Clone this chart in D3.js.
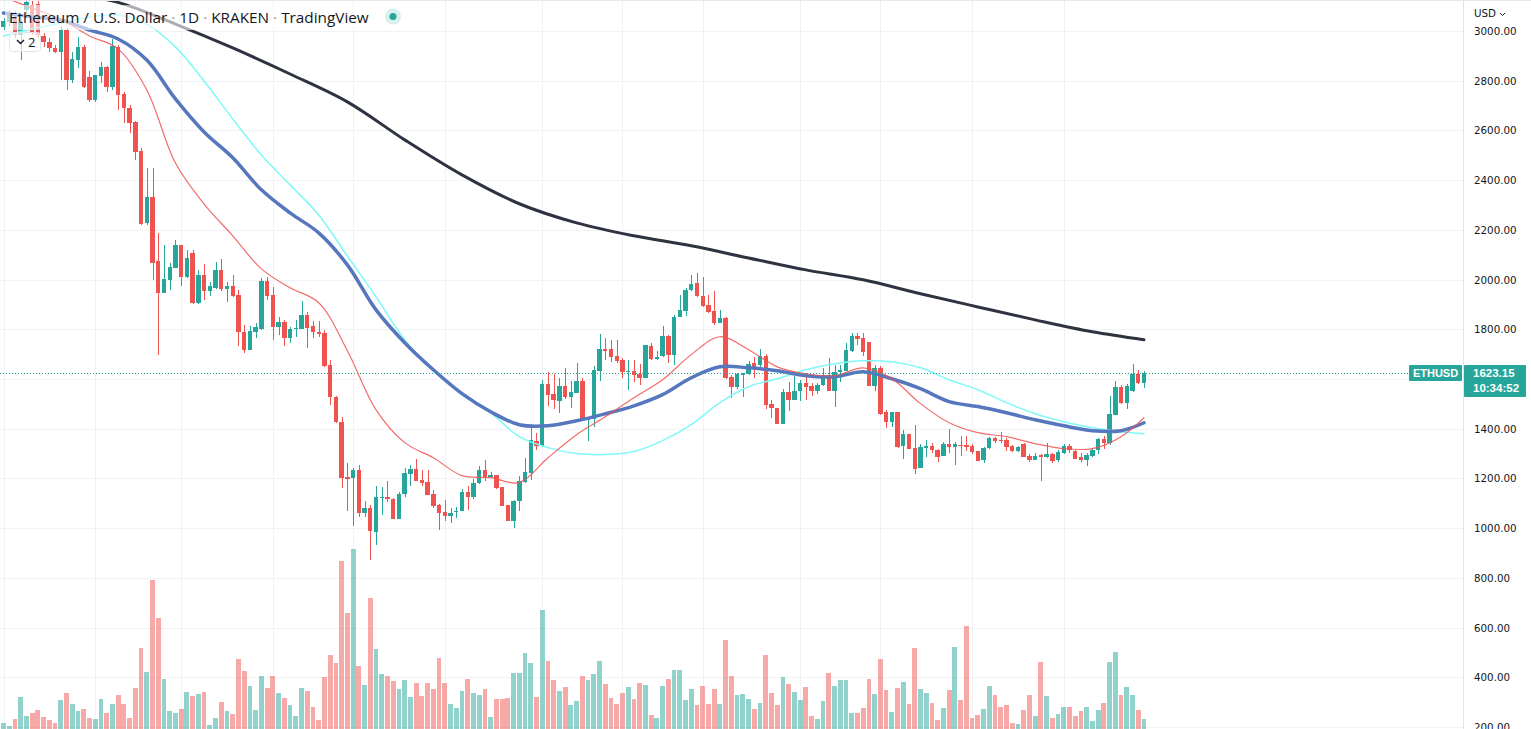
<!DOCTYPE html>
<html><head><meta charset="utf-8">
<script src="https://cdn.jsdelivr.net/npm/d3@7"></script>
<style>html,body{margin:0;padding:0;background:#fff;overflow:hidden}</style>
</head><body>
<svg id="c" width="1531" height="729"></svg>
<script>
// ---------- DATA (ETH/USD daily) ----------
const openP = [3016,3036,3056,2984,3084,3104,3110,2980,2956,2932,2916,3004,2803,2883,2936,2815,2723,2819,2855,2775,
2936,2747,2690,2634,2517,2228,2333,2075,1947,1999,2047,2140,2011,2108,1907,2019,1955,1967,2039,1963,
1975,1939,1790,1718,1790,1802,1995,1939,1810,1830,1766,1802,1802,1858,1814,1790,1786,1657,1529,1428,
1207,1203,1235,1062,1082,986,1123,1127,1119,1038,1139,1219,1239,1195,1187,1139,1094,1066,1050,1066,
1070,1147,1127,1183,1235,1207,1215,1167,1094,1030,1111,1187,1223,1352,1332,1581,1541,1513,1573,1529,
1545,1593,1436,1440,1633,1722,1722,1693,1677,1629,1633,1621,1605,1734,1681,1693,1774,1697,1850,1874,
1959,1987,1935,1898,1874,1826,1846,1609,1569,1617,1621,1665,1657,1693,1501,1485,1420,1549,1517,1553,
1585,1573,1553,1577,1617,1553,1629,1633,1714,1774,1766,1750,1573,1645,1468,1428,1468,1332,1380,1324,
1243,1324,1332,1316,1291,1340,1328,1336,1336,1332,1312,1275,1324,1364,1356,1356,1332,1312,1340,1292,
1275,1296,1288,1300,1275,1304,1332,1312,1287,1275,1292,1316,1360,1344,1456,1569,1505,1553,1621,1585];
const highP = [3052,3085,3080,3050,3125,3125,3130,2990,2972,2944,3016,3012,2916,2976,2944,2839,2823,2875,2859,2968,
2944,2755,2702,2638,2530,2449,2449,2188,2140,2067,2160,2140,2120,2120,2039,2063,1991,2071,2083,1991,
2019,1959,1818,1814,1826,2007,2011,1971,1850,1838,1810,1838,1915,1870,1834,1834,1798,1677,1533,1448,
1263,1243,1255,1110,1094,1171,1167,1191,1123,1147,1243,1255,1279,1235,1235,1155,1098,1115,1082,1086,
1159,1171,1199,1251,1275,1227,1215,1167,1094,1115,1211,1283,1420,1384,1597,1629,1621,1605,1645,1593,
1665,1605,1448,1653,1782,1766,1758,1758,1685,1677,1677,1661,1738,1746,1714,1814,1778,1858,1939,1967,
2019,2027,2011,1939,1955,1878,1850,1617,1625,1625,1673,1689,1722,1701,1517,1485,1561,1589,1613,1597,
1625,1585,1585,1645,1685,1657,1657,1746,1786,1786,1786,1750,1657,1653,1476,1468,1468,1396,1380,1416,
1340,1356,1344,1320,1348,1400,1348,1372,1372,1340,1312,1328,1368,1368,1388,1364,1336,1332,1344,1300,
1304,1300,1344,1304,1316,1340,1340,1316,1304,1304,1324,1364,1372,1533,1593,1577,1581,1661,1637,1633];
const lowP = [3004,3020,2970,2883,3070,2985,2970,2936,2916,2912,2803,2763,2791,2851,2771,2715,2715,2791,2755,2763,
2682,2630,2590,2481,2220,2220,1999,1698,1947,1959,2047,1975,2007,1903,1903,1919,1935,1963,1955,1911,
1931,1734,1706,1718,1766,1798,1919,1758,1778,1734,1746,1770,1802,1726,1766,1770,1649,1497,1424,1163,
1070,1010,1046,1046,873,934,1054,1107,1038,1038,1127,1171,1191,1171,1135,1082,994,1030,1022,1042,
1070,1074,1119,1179,1191,1203,1159,1090,1030,1002,1070,1183,1195,1316,1328,1493,1481,1465,1521,1485,
1545,1436,1352,1408,1593,1677,1669,1665,1605,1557,1589,1577,1605,1677,1677,1689,1665,1657,1850,1854,
1955,1931,1890,1866,1818,1826,1601,1525,1561,1529,1617,1605,1649,1481,1444,1420,1420,1473,1517,1513,
1517,1533,1541,1573,1553,1489,1589,1633,1710,1738,1693,1573,1553,1456,1404,1408,1324,1279,1320,1219,
1243,1287,1304,1267,1291,1304,1255,1291,1312,1300,1271,1263,1320,1344,1344,1312,1308,1308,1288,1267,
1275,1191,1284,1263,1267,1300,1304,1279,1267,1251,1287,1300,1320,1336,1456,1501,1481,1549,1581,1565];
const closeP = [3040,3064,2984,3036,3116,2996,2984,2956,2932,2916,3004,2803,2887,2936,2775,2723,2823,2855,2775,2940,
2743,2690,2630,2513,2224,2333,2067,1947,2003,2051,2140,2011,2087,1907,2019,1955,1975,2039,1963,1975,
1935,1790,1718,1794,1810,1995,1935,1810,1830,1766,1802,1806,1858,1806,1790,1782,1653,1529,1428,1203,
1199,1235,1062,1082,990,1127,1127,1119,1038,1139,1223,1239,1191,1183,1135,1090,1062,1050,1062,1070,
1147,1127,1183,1235,1207,1215,1163,1090,1030,1111,1191,1227,1356,1332,1581,1537,1517,1573,1529,1549,
1593,1436,1444,1637,1722,1714,1689,1673,1629,1633,1617,1605,1738,1681,1689,1774,1697,1850,1878,1959,
1983,1935,1894,1870,1826,1846,1605,1569,1621,1625,1661,1641,1693,1497,1485,1420,1549,1517,1553,1585,
1569,1553,1577,1617,1553,1629,1637,1718,1774,1762,1710,1573,1645,1460,1428,1468,1328,1380,1320,1239,
1328,1332,1316,1287,1340,1328,1340,1332,1328,1308,1271,1324,1364,1352,1352,1328,1312,1328,1288,1275,
1292,1288,1300,1271,1308,1332,1316,1279,1275,1296,1316,1360,1344,1460,1569,1505,1573,1621,1585,1623.15];
const volume = [7,4,11,33,14,17,20,13,10,7,30,37,26,19,21,12,11,31,17,26,
35,26,12,42,82,58,150,112,51,19,17,21,38,34,36,38,5,12,28,19,
16,71,59,44,20,54,42,54,37,32,25,14,42,39,23,10,53,75,67,169,
117,181,64,45,132,81,56,54,49,41,50,33,47,34,47,41,72,47,26,22,
39,51,37,35,41,13,31,31,32,57,57,77,67,33,120,69,50,39,43,25,
29,54,50,56,69,46,32,26,37,43,31,47,45,15,12,44,51,60,60,30,
41,25,44,26,41,26,90,54,35,36,31,21,27,75,37,25,53,46,38,30,
43,14,11,29,57,44,50,50,17,17,22,51,36,71,40,18,42,48,26,82,
41,37,27,10,22,40,83,30,104,12,15,21,44,35,23,25,7,6,20,35,
14,68,34,12,16,23,23,14,19,23,9,20,27,68,78,35,43,35,20,11];

// moving averages, read at sampled candle indices
const maIdx = [0,5,10,15,20,25,30,35,40,45,50,55,60,65,70,75,80,85,90,95,100,105,110,115,120,125,130,135,140,145,150,155,160,165,170,175,180,185,190,195,199];
const maRed = [3137,3092,3048,2980,2928,2763,2469,2304,2176,2043,1967,1907,1714,1476,1344,1283,1211,1203,1183,1283,1376,1448,1525,1597,1698,1770,1718,1649,1621,1613,1645,1601,1501,1424,1384,1368,1340,1320,1320,1368,1444];
const maBlue = [3072,3056,3044,3004,2968,2883,2727,2594,2490,2361,2268,2188,2059,1878,1746,1637,1541,1468,1416,1412,1432,1460,1492,1537,1605,1649,1645,1633,1613,1609,1629,1601,1561,1509,1489,1464,1436,1412,1392,1392,1424];
const maCyan = [2980,3008,3032,3056,3064,3028,2936,2799,2646,2501,2381,2260,2095,1931,1758,1633,1537,1464,1368,1324,1300,1296,1308,1352,1416,1505,1569,1601,1637,1661,1673,1669,1645,1597,1557,1505,1460,1428,1404,1388,1380];
const maDarkIdx = [0,10,20,30,40,50,60,70,80,90,100,110,120,130,140,150,160,170,180,190,199];
const maDark = [3213,3161,3115,3028,2932,2827,2715,2562,2421,2305,2228,2176,2136,2087,2039,1999,1943,1890,1838,1790,1758];

const priceTicks = [3000,2800,2600,2400,2200,2000,1800,1600,1400,1200,1000,800,600,400,200];
const timeGridIdx = [0,16,31,47,61,77,94,108,122,139,153,169,185];
const lastPrice = 1623.15;
const countdown = "10:34:52";
const symbolLabel = "ETHUSD";
const titleParts = ["Ethereum / U.S. Dollar", "1D", "KRAKEN", "TradingView"];
const currency = "USD";
const indicatorCount = "2";

// ---------- LAYOUT ----------
const W = 1531, H = 729, plotRight = 1463;
const UP = "#26a69a", DOWN = "#ef5350";
const svg = d3.select("#c");
const x = d3.scaleLinear().domain([0, 199]).range([3.5, 1144]);
const y = d3.scaleLinear().domain([200, 3000]).range([727, 31]);
const yv = d3.scaleLinear().domain([0, 200]).range([730, 530]);

svg.append("rect").attr("width", W).attr("height", H).attr("fill", "#fff");
svg.append("defs").append("clipPath").attr("id", "plot")
  .append("rect").attr("x", 0).attr("y", 0).attr("width", plotRight).attr("height", H);

const plot = svg.append("g").attr("clip-path", "url(#plot)");

// grid
plot.append("g").selectAll("line").data(priceTicks).join("line")
  .attr("x1", 0).attr("x2", plotRight)
  .attr("y1", d => Math.round(y(d)) + 0.5).attr("y2", d => Math.round(y(d)) + 0.5)
  .attr("stroke", "#f0f2f5").attr("stroke-width", 1);
plot.append("g").selectAll("line").data(timeGridIdx).join("line")
  .attr("y1", 0).attr("y2", H)
  .attr("x1", d => Math.round(x(d)) + 0.5).attr("x2", d => Math.round(x(d)) + 0.5)
  .attr("stroke", "#f0f2f5").attr("stroke-width", 1);

const idx = d3.range(openP.length);
const isUp = i => closeP[i] >= openP[i];

// volume
plot.append("g").attr("shape-rendering", "crispEdges").selectAll("rect").data(idx).join("rect")
  .attr("x", i => x(i) - 2.4).attr("width", 4.8)
  .attr("y", i => yv(volume[i])).attr("height", i => yv(0) - yv(volume[i]))
  .attr("fill", i => isUp(i) ? UP : DOWN).attr("fill-opacity", 0.5);

// candles
const cg = plot.append("g").attr("shape-rendering", "crispEdges");
cg.selectAll("rect.w").data(idx).join("rect").attr("class", "w")
  .attr("x", i => Math.round(x(i)) - 0.5).attr("width", 1)
  .attr("y", i => y(highP[i])).attr("height", i => Math.max(1, y(lowP[i]) - y(highP[i])))
  .attr("fill", i => isUp(i) ? UP : DOWN);
cg.selectAll("rect.b").data(idx).join("rect").attr("class", "b")
  .attr("x", i => x(i) - 2.2).attr("width", 4.4)
  .attr("y", i => y(Math.max(openP[i], closeP[i])))
  .attr("height", i => Math.max(1, Math.abs(y(openP[i]) - y(closeP[i]))))
  .attr("fill", i => isUp(i) ? UP : DOWN);

// moving averages
function maLine(ix, vals, color, width, op) {
  const pts = ix.map((d, k) => [x(d), y(vals[k])]);
  plot.append("path").attr("d", d3.line().curve(d3.curveCatmullRom.alpha(0.5))(pts))
    .attr("fill", "none").attr("stroke", color).attr("stroke-width", width)
    .attr("stroke-opacity", op).attr("stroke-linejoin", "round").attr("stroke-linecap", "round");
}
maLine(maIdx, maCyan, "#7ff9f9", 1.5, 1);
maLine(maDarkIdx, maDark, "#2f3341", 3, 1);
maLine(maIdx, maBlue, "#5677bd", 3.5, 1);
maLine(maIdx, maRed, "#ef5350", 1.2, 0.85);

// last price dotted line
const ly = Math.round(y(lastPrice));
plot.append("line").attr("x1", 0).attr("x2", plotRight)
  .attr("y1", ly + 0.5).attr("y2", ly + 0.5)
  .attr("stroke", UP).attr("stroke-width", 1).attr("stroke-dasharray", "1 2");

// symbol label on plot
svg.append("rect").attr("x", 1409).attr("y", ly - 8).attr("width", 53).attr("height", 16)
  .attr("rx", 1).attr("fill", UP);
svg.append("text").attr("x", 1435.5).attr("y", ly + 4).attr("text-anchor", "middle")
  .attr("fill", "#fff").attr("font-family", "Liberation Sans, Arial, sans-serif").attr("font-weight", "bold")
  .attr("font-size", 11).text(symbolLabel);

// price axis
svg.append("rect").attr("x", plotRight).attr("y", 0).attr("width", W - plotRight).attr("height", H).attr("fill", "#fff");
svg.append("line").attr("x1", plotRight + 0.5).attr("x2", plotRight + 0.5).attr("y1", 0).attr("y2", H)
  .attr("stroke", "#e0e3eb");
svg.append("line").attr("x1", 0).attr("x2", W).attr("y1", 0.5).attr("y2", 0.5).attr("stroke", "#e6e8ee");
// tick labels hidden where the last-price box sits (as TradingView does)
const boxTop = ly - 8, boxBottom = ly + 24;
svg.append("g").selectAll("text")
  .data(priceTicks.filter(d => y(d) + 6 < boxTop || y(d) - 6 > boxBottom)).join("text")
  .attr("x", 1474).attr("y", d => y(d) + 4)
  .attr("fill", "#131722").attr("font-family", "DejaVu Sans, sans-serif").attr("font-size", 10.3)
  .text(d => d3.format(".2f")(d));
svg.append("text").attr("x", 1474).attr("y", 17).attr("fill", "#131722")
  .attr("font-family", "DejaVu Sans, sans-serif").attr("font-size", 10.3).text(currency);
svg.append("path").attr("d", "M1500,13 L1502.5,15.5 L1505,13").attr("fill", "none")
  .attr("stroke", "#131722").attr("stroke-width", 1);

// price box on axis
svg.append("rect").attr("x", plotRight + 1).attr("y", boxTop).attr("width", 62).attr("height", boxBottom - boxTop)
  .attr("rx", 1).attr("fill", UP);
svg.append("text").attr("x", 1473).attr("y", ly + 4).attr("fill", "#fff")
  .attr("font-family", "Liberation Sans, Arial, sans-serif").attr("font-weight", "bold").attr("font-size", 11.5)
  .text(d3.format(".2f")(lastPrice));
svg.append("text").attr("x", 1473).attr("y", ly + 19).attr("fill", "#fff")
  .attr("font-family", "Liberation Sans, Arial, sans-serif").attr("font-weight", "bold").attr("font-size", 11.5)
  .text(countdown);

// legend
svg.append("rect").attr("x", 5).attr("y", 5).attr("width", 368).attr("height", 25)
  .attr("rx", 2).attr("fill", "#fff").attr("fill-opacity", 0.6);
const title = svg.append("text").attr("x", 9).attr("y", 23)
  .attr("font-family", "Open Sans, Noto Sans, sans-serif").attr("font-size", 14.5).attr("fill", "#131722");
titleParts.forEach((p, k) => {
  if (k > 0) title.append("tspan").attr("fill", "#9598a1").text(" \u00b7 ");
  title.append("tspan").text(p);
});
const tl = title.node().getComputedTextLength();
title.attr("font-size", 14.5 * 360 / tl);
svg.append("circle").attr("cx", 393).attr("cy", 16.5).attr("r", 8).attr("fill", "#d8f1ec");
svg.append("circle").attr("cx", 393).attr("cy", 16.5).attr("r", 3.5).attr("fill", UP);

svg.append("rect").attr("x", 9.5).attr("y", 32.5).attr("width", 31).attr("height", 19)
  .attr("rx", 3).attr("fill", "#fff").attr("fill-opacity", 0.65).attr("stroke", "#e0e3eb");
svg.append("path").attr("d", "M17,40 L20.5,43.5 L24,40").attr("fill", "none")
  .attr("stroke", "#131722").attr("stroke-width", 1.4);
svg.append("text").attr("x", 28).attr("y", 47).attr("fill", "#131722")
  .attr("font-family", "Open Sans, sans-serif").attr("font-size", 13).text(indicatorCount);
</script>
</body></html>
